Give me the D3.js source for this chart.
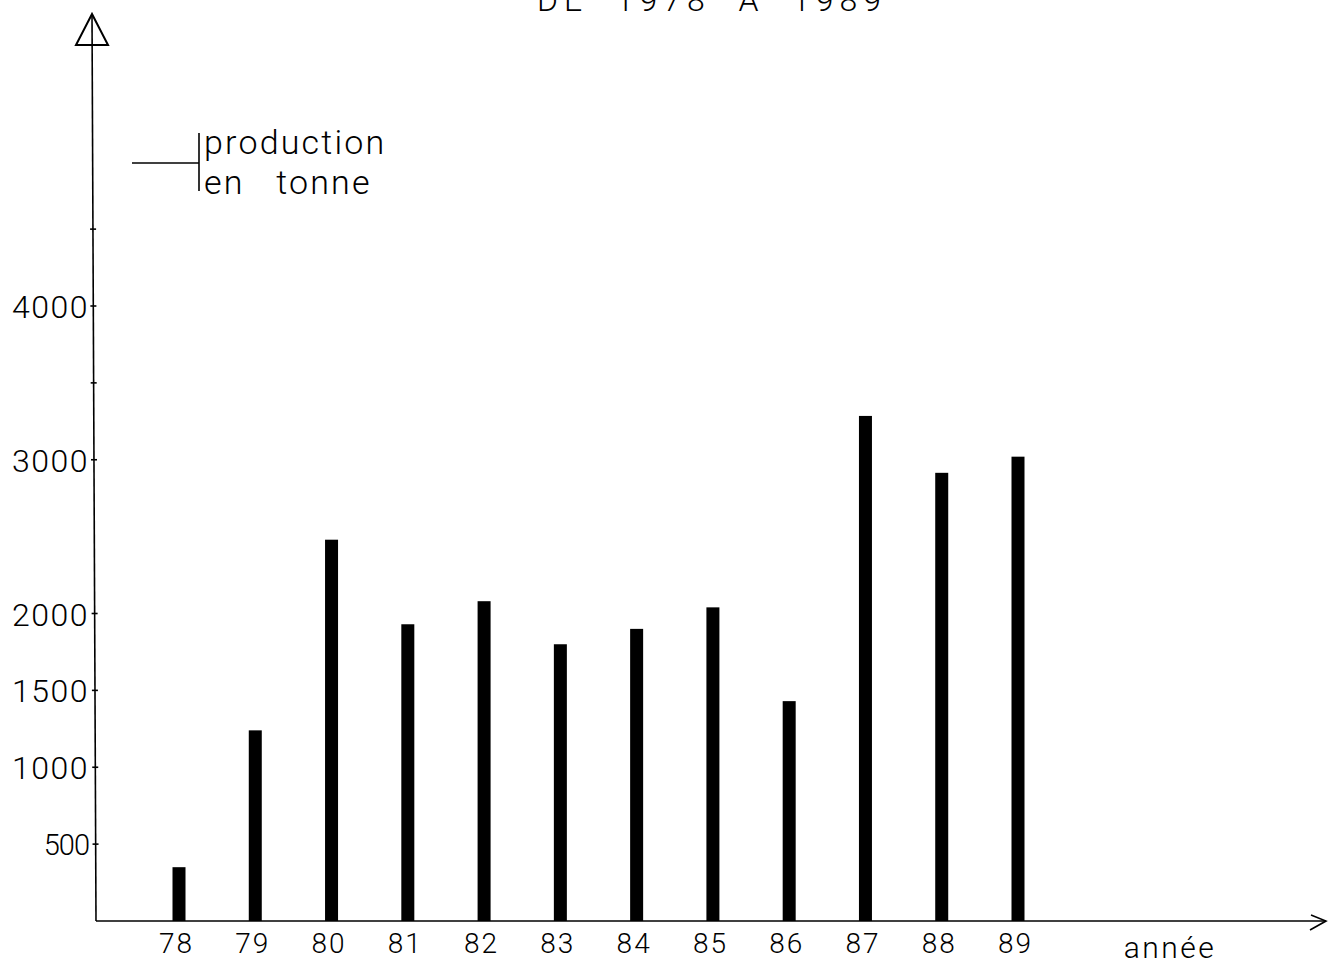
<!DOCTYPE html>
<html>
<head>
<meta charset="utf-8">
<script src="https://cdn.jsdelivr.net/npm/d3@7/dist/d3.min.js"></script>
<style>
  html, body { margin: 0; padding: 0; background: #fff; }
  svg { display: block; }
  text { font-family: Roboto, "DejaVu Sans", sans-serif; font-weight: 300; fill: #000; }
</style>
</head>
<body>
<svg id="chart" width="1328" height="966"></svg>
<script>
// ---- data ----
const years = ["78", "79", "80", "81", "82", "83", "84", "85", "86", "87", "88", "89"];
const production = [350, 1240, 2480, 1930, 2080, 1800, 1900, 2040, 1430, 3285, 2915, 3020];
const yLabelTicks = [500, 1000, 1500, 2000, 3000, 4000];
const yAllTicks = [500, 1000, 1500, 2000, 3000, 3500, 4000, 4500];
const titleText = "DE  1978  A  1989";
const legendLines = ["production", "en   tonne"];
const xTitle = "année";

// ---- layout ----
const svg = d3.select("#chart");
const axisX = 94;
const baseY = 921;

const x = d3.scalePoint().domain(years).range([179, 1018]);
const y = d3.scaleLinear().domain([0, 4000]).range([baseY, 306]);
const barW = 13;

// title (cropped at top, as in the reference)
svg.append("text")
  .attr("x", 712).attr("y", 11)
  .attr("text-anchor", "middle")
  .attr("font-size", 32)
  .attr("letter-spacing", 6)
  .style("white-space", "pre")
  .text(titleText);

// bars
svg.append("g").selectAll("rect")
  .data(years)
  .join("rect")
  .attr("x", d => x(d) - barW / 2)
  .attr("width", barW)
  .attr("y", (d, i) => y(production[i]))
  .attr("height", (d, i) => y(0) - y(production[i]))
  .attr("fill", "#000");

// y axis line
svg.append("line")
  .attr("x1", 92).attr("y1", 14)
  .attr("x2", 96).attr("y2", baseY)
  .attr("stroke", "#000").attr("stroke-width", 1.6);

// arrowhead triangle at the top of y axis
svg.append("path")
  .attr("d", "M92,14 L76,45 L108,45 Z")
  .attr("fill", "none").attr("stroke", "#000").attr("stroke-width", 2);

// y tick marks
svg.append("g").selectAll("line")
  .data(yAllTicks)
  .join("line")
  .attr("x1", d => axisX + (y(d) - 460) * 0.004 - 3)
  .attr("x2", d => axisX + (y(d) - 460) * 0.004 + 3)
  .attr("y1", d => y(d)).attr("y2", d => y(d))
  .attr("stroke", "#000").attr("stroke-width", 1.6);

// y axis labels via d3 axis
const yAxis = d3.axisLeft(y).tickValues(yLabelTicks).tickSize(0).tickPadding(5).tickFormat(d => String(d));
const gy = svg.append("g").attr("transform", `translate(${axisX},0)`).call(yAxis);
gy.select(".domain").remove();
gy.selectAll("text")
  .attr("font-size", d => d === 500 ? 29 : 32)
  .attr("letter-spacing", d => d === 500 ? -1 : 1.5)
  .attr("font-family", null)
  .attr("dy", "0.36em");

// x axis baseline
svg.append("line")
  .attr("x1", 96).attr("y1", baseY)
  .attr("x2", 1326).attr("y2", baseY)
  .attr("stroke", "#000").attr("stroke-width", 1.6);
// arrow at right end
svg.append("path")
  .attr("d", "M1311,915 L1326,921 L1310,930")
  .attr("fill", "none").attr("stroke", "#000").attr("stroke-width", 1.6);

// x axis labels via d3 axis
const xAxis = d3.axisBottom(x).tickSize(0).tickPadding(12);
const gx = svg.append("g").attr("transform", `translate(-3,${baseY})`).call(xAxis);
gx.select(".domain").remove();
gx.selectAll("text")
  .attr("font-size", 28)
  .attr("letter-spacing", 2)
  .attr("font-family", null);

// x axis title
svg.append("text")
  .attr("x", 1170).attr("y", 958)
  .attr("text-anchor", "middle")
  .attr("font-size", 30)
  .attr("letter-spacing", 2.5)
  .text(xTitle);

// legend / unit annotation
svg.append("line")
  .attr("x1", 132).attr("y1", 163).attr("x2", 199).attr("y2", 163)
  .attr("stroke", "#000").attr("stroke-width", 1.4);
svg.append("line")
  .attr("x1", 199).attr("y1", 133).attr("x2", 199).attr("y2", 191)
  .attr("stroke", "#000").attr("stroke-width", 1.6);
svg.append("text")
  .attr("x", 204).attr("y", 154)
  .attr("font-size", 34)
  .attr("letter-spacing", 2.2)
  .text(legendLines[0]);
svg.append("text")
  .attr("x", 204).attr("y", 194)
  .attr("font-size", 34)
  .attr("letter-spacing", 2.2)
  .style("white-space", "pre")
  .text(legendLines[1]);
</script>
</body>
</html>
